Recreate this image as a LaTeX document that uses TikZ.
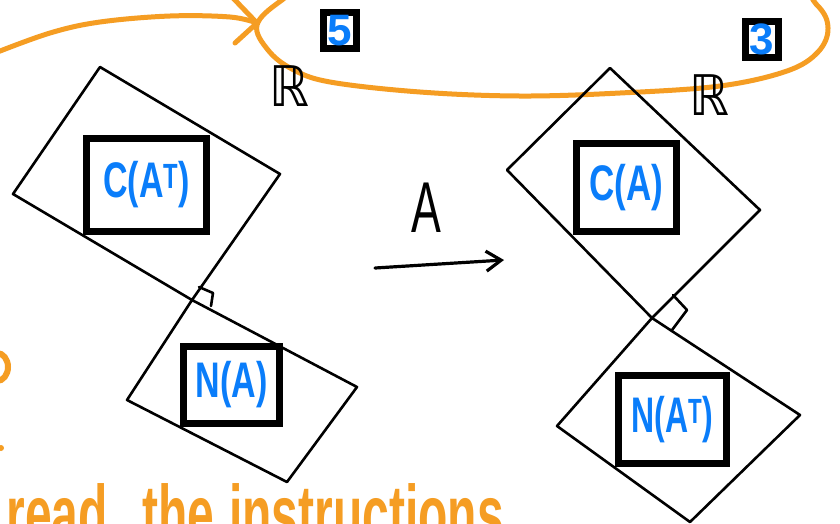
\documentclass[tikz,border=0pt]{standalone}
\usepackage{fontspec}
\setmainfont{Liberation Sans}
\newfontfamily\dejavu{DejaVu Sans}
\usetikzlibrary{arrows.meta}
\definecolor{hlorange}{RGB}{245,157,35}
\definecolor{inkblue}{RGB}{10,125,250}
\tikzset{
  edgeline/.style={draw=black, line width=2.6pt, line join=round, line cap=round},
  subbox/.style={draw=black, line width=7pt, inner sep=0pt, text=inkblue,
    font=\fontsize{50}{50}\selectfont\bfseries},
  numbox/.style={draw=black, line width=7pt, inner sep=0pt, text=inkblue,
    minimum width=33pt, minimum height=36pt, font=\fontsize{44}{44}\selectfont\bfseries},
  rlabel/.style={inner sep=0pt, font=\dejavu\fontsize{56}{56}\selectfont},
  orangeline/.style={draw=hlorange, line width=5pt, line cap=round, line join=round},
  orangetext/.style={inner sep=0pt, text=hlorange, font=\fontsize{80}{80}\selectfont\bfseries},
  marker/.style={draw=black, line width=2.6pt, line join=round, line cap=round}
}
\begin{document}
\begin{tikzpicture}[x=1pt,y=-1pt]
\useasboundingbox (0,0) rectangle (840,523);
\clip (0,0) rectangle (840,523);
\fill[white] (0,0) rectangle (840,523);

% orange ellipse and arrow
\draw[orangeline] plot[smooth cycle, tension=0.6] coordinates {(257,25) (268,50) (292,69) (330,82) (420,92) (520,96) (620,93) (720,86) (787,71) (818,52) (828,28) (816,4) (770,-30) (540,-52) (340,-35) (282,0)};
\coordinate (oatip) at (257,23);
\draw[orangeline] plot[smooth, tension=0.6] coordinates {(-5,53) (50,33) (100,22) (170,16) (230,17) (257,23)};
\coordinate (ob1) at (233,-2);
\coordinate (ob2) at (235,43);
\draw[orangeline] (ob1) -- (oatip) -- (ob2);

% orange fragments
\draw[hlorange, line width=6pt] (-3,367) ellipse (11pt and 14pt);
\fill[hlorange] (1,448) circle (3pt);
\node[orangetext, anchor=base east] (w1) at (108,541) {\scalebox{0.6}[1]{read}};
\node[orangetext, anchor=base west] (w2) at (142,541) {\scalebox{0.6}[1]{the}};
\node[orangetext, anchor=base west] (w3) at (229,541) {\scalebox{0.6}[1]{instructions}};

% left: row space and null space
\coordinate (rT) at (100,67);
\coordinate (rR) at (280,174);
\coordinate (P) at (192,300);
\coordinate (rL) at (13,194);
\draw[edgeline] (rT) -- (rR) -- (P) -- (rL) -- cycle;
\coordinate (nR) at (357,387);
\coordinate (nB) at (287,482);
\coordinate (nL) at (127,400);
\draw[edgeline] (P) -- (nR) -- (nB) -- (nL) -- cycle;
\coordinate (m1) at (199,287);
\coordinate (m2) at (213,293);
\coordinate (m3) at (211,306);
\draw[marker] (m1) -- (m2) -- (m3);

% right: column space and left null space
\coordinate (cT) at (610,68);
\coordinate (cR) at (760,210);
\coordinate (Q) at (652,318);
\coordinate (cL) at (507,170);
\draw[edgeline] (cT) -- (cR) -- (Q) -- (cL) -- cycle;
\coordinate (lR) at (800,415);
\coordinate (lB) at (690,522);
\coordinate (lL) at (557,426);
\draw[edgeline] (Q) -- (lR) -- (lB) -- (lL) -- cycle;
\coordinate (k1) at (673,295);
\coordinate (k2) at (687,310);
\coordinate (k3) at (672,330);
\draw[marker] (k1) -- (k2) -- (k3);

% subspace boxes
\node[subbox, minimum width=120pt, minimum height=93pt] (rowsp) at (146.5,185) {\scalebox{0.68}[1]{C(A\textsuperscript{T})}};
\node[subbox, minimum width=96pt, minimum height=77pt] (nullsp) at (231.5,385) {\scalebox{0.68}[1]{N(A)}};
\node[subbox, minimum width=100pt, minimum height=88pt] (colsp) at (626.5,187.5) {\scalebox{0.7}[1]{C(A)}};
\node[subbox, minimum width=108pt, minimum height=88pt] (lnullsp) at (672.5,419.5) {\scalebox{0.64}[1]{N(A\textsuperscript{T})}};

% R labels and dimension boxes
\node[rlabel] (R5) at (289,86) {\scalebox{0.9}[1]{ℝ}};
\node[rlabel] (R3) at (709,95) {\scalebox{0.9}[1]{ℝ}};
\node[numbox] (d5) at (340,30.5) {5};
\node[numbox] (d3) at (761.5,39) {3};

% map A
\coordinate (a1) at (375,268);
\coordinate (a2) at (504,260);
\draw[line width=3.2pt, line cap=round, -{Straight Barb[length=15pt,width=20pt]}] (a1) -- (a2);
\node[inner sep=0pt, font=\fontsize{72}{72}\selectfont] (Alab) at (426,208) {\scalebox{0.62}[1]{A}};
\end{tikzpicture}
\end{document}
